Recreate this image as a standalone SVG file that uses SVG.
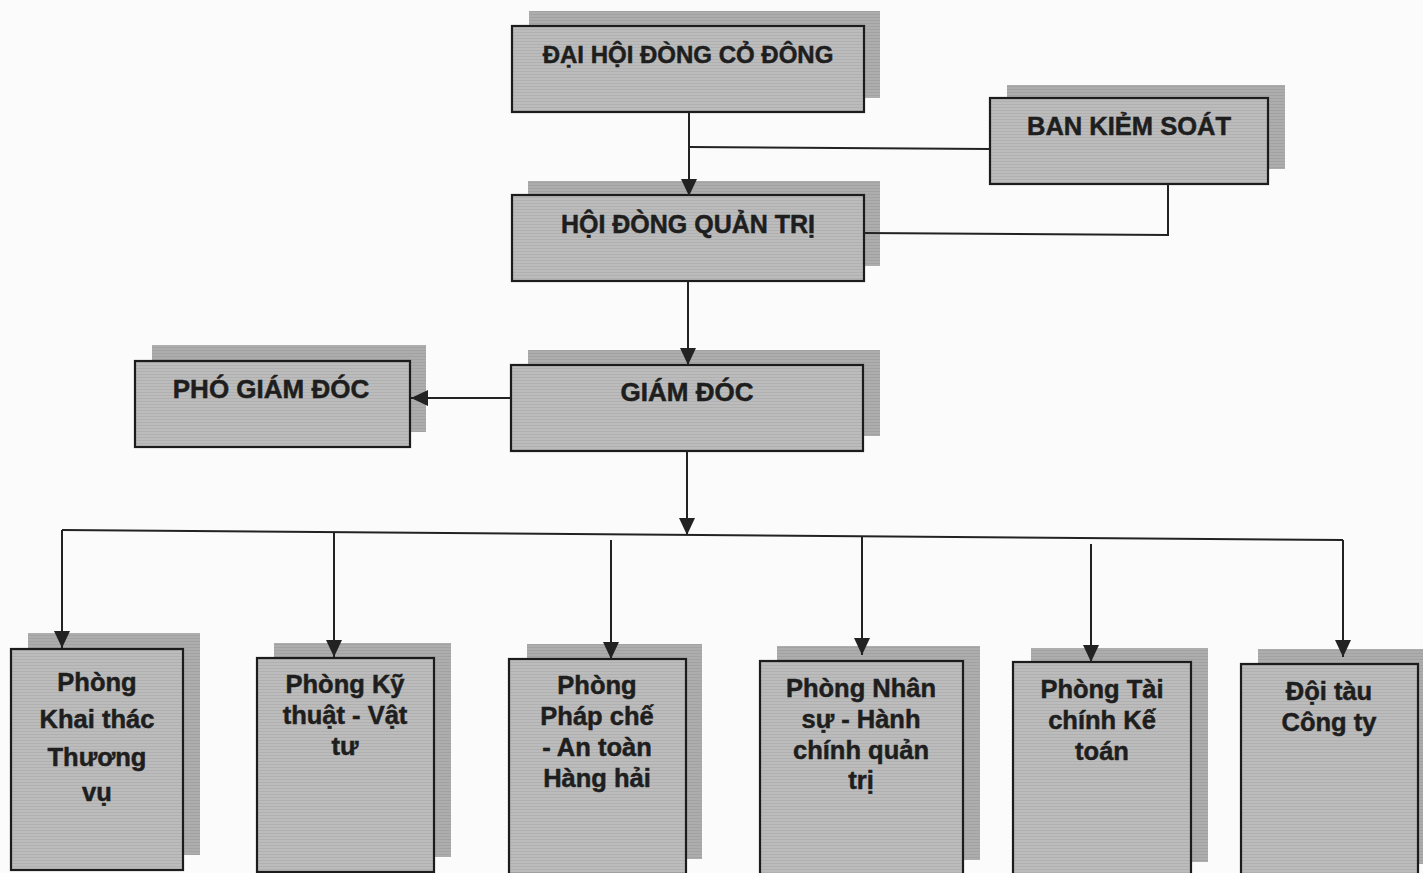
<svg xmlns="http://www.w3.org/2000/svg" width="1423" height="873" viewBox="0 0 1423 873">
<style>
.main{fill:url(#tex);stroke:#1c1c1c;stroke-width:2.2}
.shadow{fill:url(#texd);stroke:none}
.t{font-family:"Liberation Sans",Arial,sans-serif;font-weight:bold;fill:#1e1e1e;stroke:#1e1e1e;stroke-width:0.5;text-anchor:middle}
.c{fill:none;stroke:#222;stroke-width:2}
</style>
<defs>
<pattern id="tex" width="4" height="3" patternUnits="userSpaceOnUse">
<rect width="4" height="3" fill="#bcbcbc"/>
<rect y="2" width="4" height="1" fill="#b0b0b0"/>
</pattern>
<pattern id="texd" width="4" height="3" patternUnits="userSpaceOnUse">
<rect width="4" height="3" fill="#adadad"/>
<rect y="2" width="4" height="1" fill="#a2a2a2"/>
</pattern>
<marker id="arr" markerUnits="userSpaceOnUse" markerWidth="20" markerHeight="20" refX="17" refY="8" orient="auto">
<path d="M0,0 L17,8 L0,16 z" fill="#222"/>
</marker>
</defs>
<rect width="1423" height="873" fill="#fbfbfb"/>

<g id="dhdcd">
<rect class="shadow" x="529" y="11" width="351" height="87"/>
<rect class="main" x="512" y="26" width="352" height="86"/>
<text class="t" x="688" y="63" font-size="24">ĐẠI HỘI ĐÒNG CỎ ĐÔNG</text>
</g>

<g id="bks">
<rect class="shadow" x="1007" y="85" width="278" height="84"/>
<rect class="main" x="990" y="98" width="278" height="86"/>
<text class="t" x="1129" y="135" font-size="25.5">BAN KIẺM SOÁT</text>
</g>

<g id="hdqt">
<rect class="shadow" x="528" y="181" width="352" height="85"/>
<rect class="main" x="512" y="195" width="352" height="86"/>
<text class="t" x="688" y="233" font-size="25">HỘI ĐÒNG QUẢN TRỊ</text>
</g>

<g id="gd">
<rect class="shadow" x="528" y="350" width="352" height="86"/>
<rect class="main" x="511" y="365" width="352" height="86"/>
<text class="t" x="687" y="401" font-size="26">GIÁM ĐÓC</text>
</g>

<g id="pgd">
<rect class="shadow" x="152" y="345" width="274" height="87"/>
<rect class="main" x="135" y="361" width="275" height="86"/>
<text class="t" x="271" y="398" font-size="26">PHÓ GIÁM ĐÓC</text>
</g>

<g id="p1">
<rect class="shadow" x="28" y="633" width="172" height="222"/>
<rect class="main" x="11" y="649" width="172" height="221"/>
<text class="t" font-size="25.5"><tspan x="97" y="691">Phòng</tspan><tspan x="97" y="728">Khai thác</tspan><tspan x="97" y="766">Thương</tspan><tspan x="97" y="801">vụ</tspan></text>
</g>

<g id="p2">
<rect class="shadow" x="274" y="643" width="177" height="214"/>
<rect class="main" x="257" y="658" width="177" height="214"/>
<text class="t" font-size="25.5"><tspan x="345" y="693">Phòng Kỹ</tspan><tspan x="345" y="724">thuật - Vật</tspan><tspan x="345" y="755">tư</tspan></text>
</g>

<g id="p3">
<rect class="shadow" x="527" y="644" width="175" height="215"/>
<rect class="main" x="509" y="659" width="177" height="215"/>
<text class="t" font-size="25.5"><tspan x="597" y="694">Phòng</tspan><tspan x="597" y="725">Pháp chế</tspan><tspan x="597" y="756">- An toàn</tspan><tspan x="597" y="787">Hàng hải</tspan></text>
</g>

<g id="p4">
<rect class="shadow" x="777" y="646" width="203" height="214"/>
<rect class="main" x="760" y="661" width="203" height="214"/>
<text class="t" font-size="25.5"><tspan x="861" y="697">Phòng Nhân</tspan><tspan x="861" y="728">sự - Hành</tspan><tspan x="861" y="759">chính quản</tspan><tspan x="861" y="789">trị</tspan></text>
</g>

<g id="p5">
<rect class="shadow" x="1031" y="648" width="177" height="214"/>
<rect class="main" x="1013" y="662" width="178" height="215"/>
<text class="t" font-size="25.5"><tspan x="1102" y="698">Phòng Tài</tspan><tspan x="1102" y="729">chính Kế</tspan><tspan x="1102" y="760">toán</tspan></text>
</g>

<g id="p6">
<rect class="shadow" x="1258" y="649" width="177" height="215"/>
<rect class="main" x="1241" y="664" width="177" height="215"/>
<text class="t" font-size="25.5"><tspan x="1329" y="700">Đội tàu</tspan><tspan x="1329" y="731">Công ty</tspan></text>
</g>

<g id="connectors">
<path class="c" d="M689,112 V196" marker-end="url(#arr)"/>
<path class="c" d="M689,147 L990,149"/>
<path class="c" d="M1168,184 V235 L864,233"/>
<path class="c" d="M688,281 V365" marker-end="url(#arr)"/>
<path class="c" d="M511,398 H411" marker-end="url(#arr)"/>
<path class="c" d="M687,451 V535" marker-end="url(#arr)"/>
<path class="c" d="M62,530 L1343,540"/>
<path class="c" d="M62,530 V648" marker-end="url(#arr)"/>
<path class="c" d="M334,532 V657" marker-end="url(#arr)"/>
<path class="c" d="M611,540 V659" marker-end="url(#arr)"/>
<path class="c" d="M862,536 V655" marker-end="url(#arr)"/>
<path class="c" d="M1091,544 V662" marker-end="url(#arr)"/>
<path class="c" d="M1343,540 V657" marker-end="url(#arr)"/>
</g>
</svg>
